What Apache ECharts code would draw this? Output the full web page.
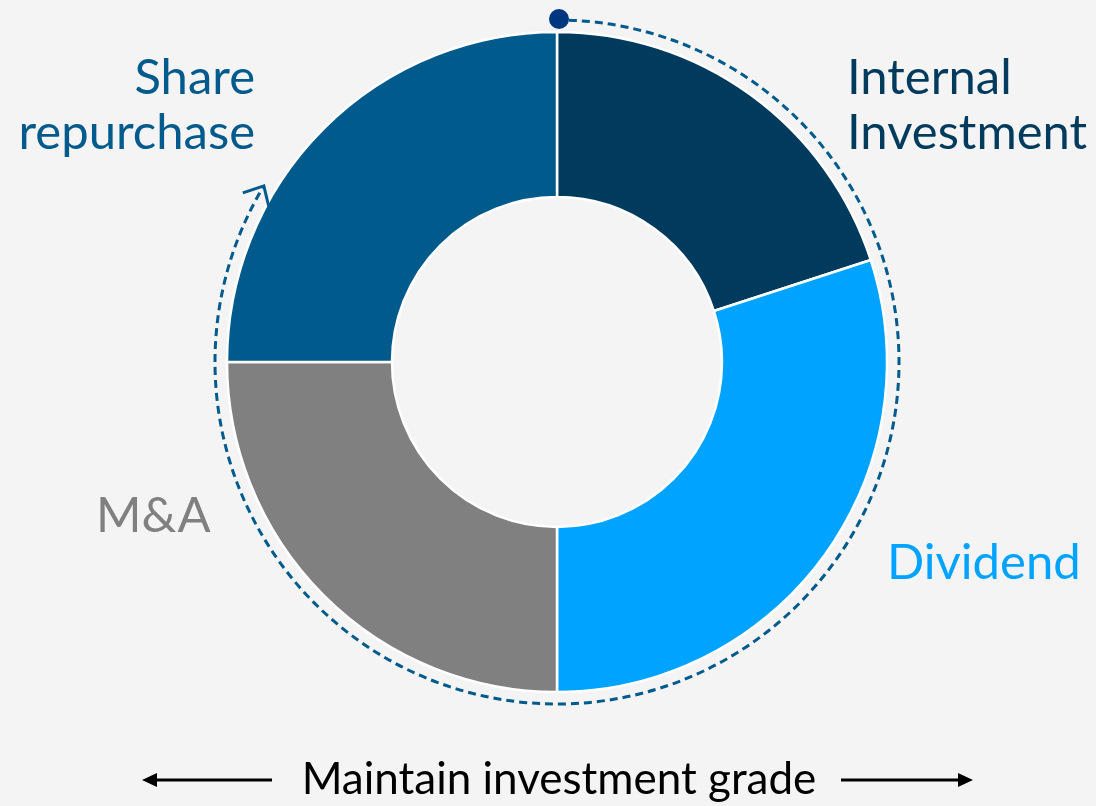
<!DOCTYPE html>
<html>
<head>
<meta charset="utf-8">
<script src="https://cdn.jsdelivr.net/npm/echarts@6/dist/echarts.min.js"></script>
<style>
  html, body { margin: 0; padding: 0; background: #f4f4f4; }
  #root { width: 1096px; height: 806px; }
</style>
</head>
<body>
<div id="root"></div>
<script>
// slices, clockwise from 12 o'clock
const categories = ['Internal\nInvestment', 'Dividend', 'M&A', 'Share\nrepurchase']
const shares = [20, 30, 25, 25]
const sliceColors = ['#003a5c', '#00a3ff', '#808080', '#005a8c']
const footerText = 'Maintain investment grade'

const cx = 557, cy = 362
const font = 'Lato, "Open Sans", sans-serif'

// label spots, one per category
const labelSpots = [
  { x: 847, y: 106, align: 'left' },
  { x: 887, y: 563, align: 'left' },
  { x: 96, y: 516, align: 'left' },
  { x: 255, y: 106, align: 'right' }
]

const chart = echarts.init(document.getElementById('root'))

const arcR = 342
const arcStart = -Math.PI / 2 + 0.035
const arcEnd = Math.PI * 2 - (149 * Math.PI / 180)
const tipX = cx + arcR * Math.cos(arcEnd)
const tipY = cy + arcR * Math.sin(arcEnd)

const graphics = []

// dashed flow arc around the ring
graphics.push({
  type: 'arc',
  shape: { cx: cx, cy: cy, r: arcR, startAngle: arcStart, endAngle: arcEnd, clockwise: true },
  style: { stroke: '#005a8c', lineWidth: 3, lineDash: [8, 5], fill: null },
  z: 10
})
// arrow head at end of arc
graphics.push({
  type: 'polyline',
  shape: { points: [[tipX - 21, tipY + 7], [tipX, tipY], [tipX + 5, tipY + 21]] },
  style: { stroke: '#005a8c', lineWidth: 3, fill: null },
  z: 10
})
// start dot
graphics.push({
  type: 'circle',
  shape: { cx: cx + 2, cy: cy - arcR - 1, r: 10 },
  style: { fill: '#00357f' },
  z: 11
})

categories.forEach((name, i) => {
  const s = labelSpots[i]
  graphics.push({
    type: 'text',
    x: s.x, y: s.y,
    style: {
      text: name, fill: sliceColors[i], font: '49px ' + font,
      align: s.align, verticalAlign: 'middle', lineHeight: 55
    }
  })
})

// footer with arrows both sides
const fy = 780
graphics.push({
  type: 'text', x: 559, y: fy,
  style: { text: footerText, fill: '#000', font: '44px ' + font, align: 'center', verticalAlign: 'middle' }
})
graphics.push({ type: 'line', shape: { x1: 152, y1: fy, x2: 272, y2: fy }, style: { stroke: '#000', lineWidth: 3 } })
graphics.push({ type: 'polygon', shape: { points: [[142, fy], [157, fy - 7], [157, fy + 7]] }, style: { fill: '#000' } })
graphics.push({ type: 'line', shape: { x1: 841, y1: fy, x2: 962, y2: fy }, style: { stroke: '#000', lineWidth: 3 } })
graphics.push({ type: 'polygon', shape: { points: [[973, fy], [958, fy - 7], [958, fy + 7]] }, style: { fill: '#000' } })

const option = {
  backgroundColor: '#f4f4f4',
  animation: false,
  series: [
    {
      type: 'pie',
      center: [cx, cy],
      radius: [165, 330],
      startAngle: 90,
      clockwise: true,
      label: { show: false },
      labelLine: { show: false },
      itemStyle: { borderColor: '#ffffff', borderWidth: 2.5 },
      emphasis: { disabled: true },
      data: categories.map((name, i) => ({
        name: name, value: shares[i], itemStyle: { color: sliceColors[i] }
      }))
    }
  ],
  graphic: graphics
}
chart.setOption(option)
</script>
</body>
</html>
